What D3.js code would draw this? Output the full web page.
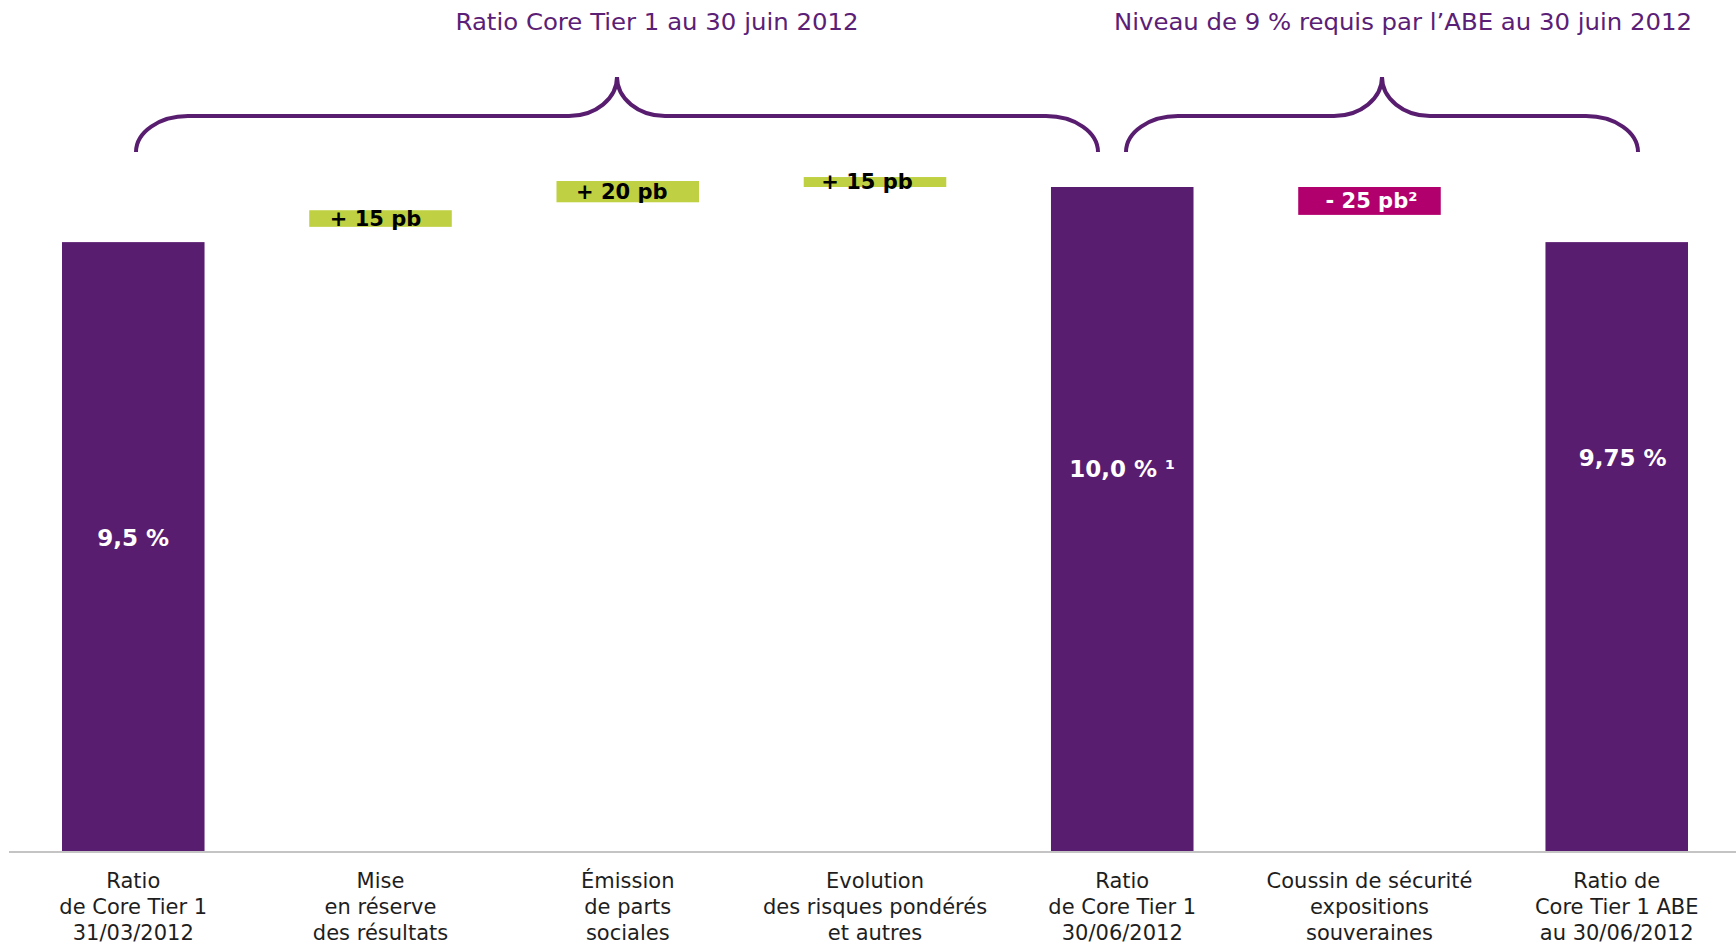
<!DOCTYPE html>
<html lang="fr">
<head>
<meta charset="utf-8">
<script src="https://cdn.jsdelivr.net/npm/d3@7"></script>
<style>
  html, body { margin: 0; padding: 0; background: #fff; }
  svg { display: block; }
</style>
</head>
<body>
<div id="graphique"></div>
<script>
// Catégories (une entrée par ligne d'étiquette)
const categories = [
    ["Ratio", "de Core Tier 1", "31/03/2012"],
    ["Mise", "en réserve", "des résultats"],
    ["Émission", "de parts", "sociales"],
    ["Evolution", "des risques pondérés", "et autres"],
    ["Ratio", "de Core Tier 1", "30/06/2012"],
    ["Coussin de sécurité", "expositions", "souveraines"],
    ["Ratio de", "Core Tier 1 ABE", "au 30/06/2012"]
];

// Valeurs (échelle du dessin, en %)
const debut = [0, 9.40, 9.77, 10.0, 0, 9.58, 0];
const fin = [9.17, 9.65, 10.09, 10.15, 10.0, 10.0, 9.17];
const types = ["total", "hausse", "hausse", "hausse", "total", "baisse", "total"];
const etiquettes = ["9,5 %", "+ 15 pb", "+ 20 pb", "+ 15 pb", "10,0 % ¹", "- 25 pb²", "9,75 %"];

// Accolades et leurs titres
const titres = ["Ratio Core Tier 1 au 30 juin 2012", "Niveau de 9 % requis par l’ABE au 30 juin 2012"];
const accolades = [[0, 4], [4, 6]];

////////////////////////////////////////////////////////////////////////////////
const width = 1736, height = 946;
const violet = "#591d70";
const couleurs = { total: violet, hausse: "#bfd042", baisse: "#b1006d" };
const police = "'DejaVu Sans', Verdana, sans-serif";

const svg = d3.select("#graphique").append("svg")
    .attr("width", width)
    .attr("height", height);

const x = d3.scaleBand()
    .domain(d3.range(categories.length))
    .range([62, 1688])
    .paddingInner(0.4235)
    .paddingOuter(0);

const y = d3.scaleLinear()
    .domain([0, 10])
    .range([851, 187]);

// Barres
svg.selectAll("rect.barre")
    .data(d3.range(categories.length))
    .enter().append("rect")
    .attr("class", "barre")
    .attr("x", i => x(i))
    .attr("width", x.bandwidth())
    .attr("y", i => y(fin[i]))
    .attr("height", i => y(debut[i]) - y(fin[i]))
    .attr("fill", i => couleurs[types[i]]);

// Ligne de base
svg.append("line")
    .attr("x1", 9).attr("x2", width)
    .attr("y1", y(0) + 1).attr("y2", y(0) + 1)
    .attr("stroke", "#c4c4c4")
    .attr("stroke-width", 2);

// Étiquettes des catégories (axe)
const axe = svg.append("g")
    .attr("transform", `translate(0,${y(0)})`)
    .call(d3.axisBottom(x).tickSize(0).tickFormat(""));
axe.select(".domain").remove();
axe.selectAll(".tick text").remove();
axe.selectAll(".tick").append("text")
    .attr("text-anchor", "middle")
    .style("font-family", police)
    .style("font-size", "21px")
    .attr("fill", "#1e1e1e")
    .selectAll("tspan")
    .data(i => categories[i])
    .enter().append("tspan")
    .attr("x", 0)
    .attr("y", (d, j) => 37 + j * 26)
    .text(d => d);

// Valeurs des barres
const hautEtiquette = [546, 0, 0, 0, 477, 0, 466];
const decalage = [0, -5, -6, -8, 0, 2, 6];
svg.selectAll("text.valeur")
    .data(d3.range(categories.length))
    .enter().append("text")
    .attr("class", "valeur")
    .attr("x", i => x(i) + x.bandwidth() / 2 + decalage[i])
    .attr("y", i => types[i] === "total" ? hautEtiquette[i] : (y(debut[i]) + y(fin[i])) / 2 + 7)
    .attr("text-anchor", "middle")
    .style("font-family", police)
    .style("font-weight", "bold")
    .style("font-size", i => types[i] === "total" ? "23px" : "21px")
    .attr("fill", i => types[i] === "hausse" ? "#000" : "#fff")
    .text(i => etiquettes[i]);

// Accolades
function accolade(xa, xb) {
    const yb = 152, yl = 116, yp = 77, r = 52, r2 = 48;
    const xm = (xa + xb) / 2;
    return `M${xa},${yb} A${r},${yb - yl} 0 0 1 ${xa + r},${yl}` +
        ` H${xm - r2} A${r2},${yl - yp} 0 0 0 ${xm},${yp}` +
        ` A${r2},${yl - yp} 0 0 0 ${xm + r2},${yl}` +
        ` H${xb - r} A${r},${yb - yl} 0 0 1 ${xb},${yb}`;
}
const bornes = [[136, 1098], [1126, 1638]];
svg.selectAll("path.accolade")
    .data(accolades)
    .enter().append("path")
    .attr("class", "accolade")
    .attr("d", (d, k) => accolade(bornes[k][0], bornes[k][1]))
    .attr("fill", "none")
    .attr("stroke", violet)
    .attr("stroke-width", 4);

// Titres
const centresTitres = [657, 1403];
const largeursTitres = [403, 578];
svg.selectAll("text.titre")
    .data(titres)
    .enter().append("text")
    .attr("class", "titre")
    .attr("x", (d, k) => centresTitres[k])
    .attr("y", 30)
    .attr("text-anchor", "middle")
    .attr("textLength", (d, k) => largeursTitres[k])
    .attr("lengthAdjust", "spacingAndGlyphs")
    .style("font-family", police)
    .style("font-size", "23.5px")
    .attr("fill", "#5b2076")
    .text(d => d);
</script>
</body>
</html>
